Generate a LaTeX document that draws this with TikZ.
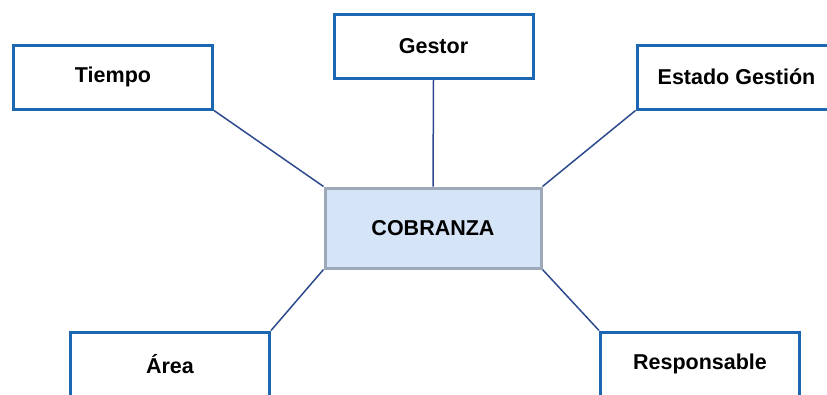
\documentclass[tikz,border=0pt]{standalone}
\usepackage{fontspec}
\setmainfont{Liberation Sans}
\usetikzlibrary{backgrounds}
\definecolor{boxblue}{HTML}{1B67B2}
\definecolor{linkblue}{HTML}{2E4A8E}
\definecolor{hubfill}{HTML}{D6E4F7}
\definecolor{hubedge}{HTML}{9DA9B9}
\tikzset{
  leaf/.style={draw=boxblue, line width=3pt, fill=white, rectangle,
    minimum width=199pt, minimum height=64pt, inner sep=0pt,
    font=\fontsize{21.5}{25}\selectfont\bfseries},
  hub/.style={draw=hubedge, line width=3pt, fill=hubfill, rectangle,
    minimum width=216pt, minimum height=80pt, inner sep=0pt,
    font=\fontsize{21.5}{25}\selectfont\bfseries},
  link/.style={draw=linkblue, line width=1.5pt}
}
\begin{document}
\begin{tikzpicture}[x=1pt,y=-1pt]
  \useasboundingbox (0,0) rectangle (827,394);
  % outer boxes
  \node[leaf] (tiempo) at (113,77) {Tiempo};
  \node[leaf] (gestor) at (433.5,46) {Gestor};
  \node[leaf] (estado) at (736.5,77) {Estado Gestión};
  \node[leaf] (area) at (170,364) {Área};
  \node[leaf] (resp) at (700,364) {Responsable};
  % central box
  \node[hub] (cob) at (433,228) {COBRANZA};
  % links from the centre to each box, behind the boxes
  \begin{scope}[on background layer]
    \draw[link] (tiempo.south east) -- (cob.north west);
    \draw[link] (gestor.south) -- (cob.north);
    \draw[link] (estado.south west) -- (cob.north east);
    \draw[link] (area.north east) -- (cob.south west);
    \draw[link] (resp.north west) -- (cob.south east);
  \end{scope}
\end{tikzpicture}
\end{document}
